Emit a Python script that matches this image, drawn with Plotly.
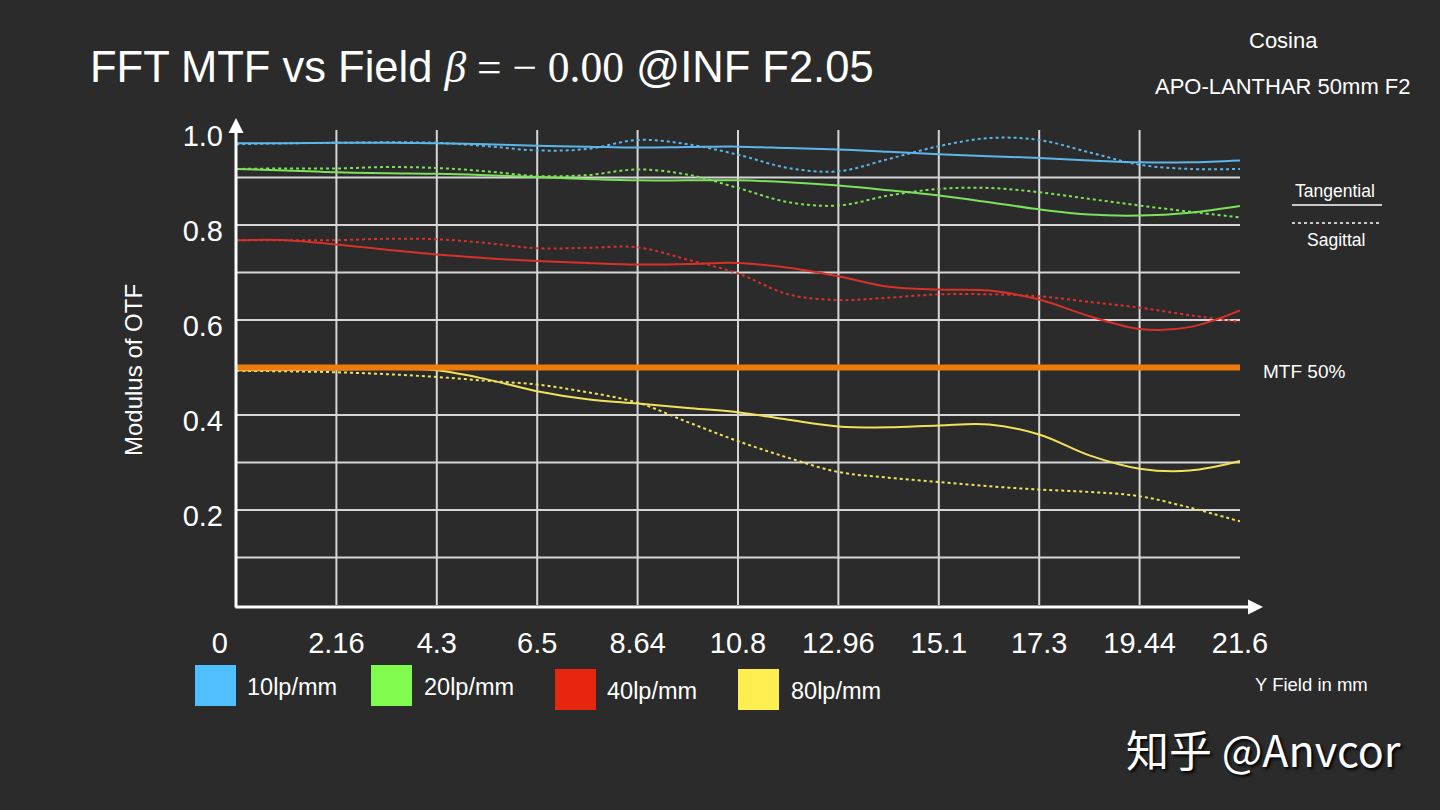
import plotly.graph_objects as go

# Y field positions (mm) where the curves were read
field = [0, 1.08, 2.16, 3.24, 4.32, 5.4, 6.48, 7.56, 8.64, 9.72, 10.8,
         11.88, 12.96, 14.04, 15.12, 16.2, 17.28, 18.36, 19.44, 20.52, 21.6]

# tick marks on the field axis ("0" is padded so it sits left of the axis, as in the original)
field_ticks = [0, 2.16, 4.32, 6.48, 8.64, 10.8, 12.96, 15.12, 17.28, 19.44, 21.6]
field_labels = ['0\u00a0\u00a0\u00a0\u00a0', '2.16', '4.3', '6.5', '8.64', '10.8', '12.96',
                '15.1', '17.3', '19.44', '21.6']

mtf_ticks = [0.2, 0.4, 0.6, 0.8, 1.0]
mtf_labels = ['0.2', '0.4', '0.6', '0.8', '1.0']
mtf_grid = [0.1, 0.2, 0.3, 0.4, 0.5, 0.6, 0.7, 0.8, 0.9]

# MTF values, tangential (T) and sagittal (S)
t10 = [0.972, 0.972, 0.973, 0.973, 0.972, 0.970, 0.967, 0.965, 0.963, 0.964, 0.965,
       0.962, 0.959, 0.954, 0.949, 0.945, 0.941, 0.936, 0.932, 0.932, 0.936]
s10 = [0.970, 0.972, 0.973, 0.974, 0.973, 0.966, 0.957, 0.960, 0.979, 0.970, 0.948,
       0.920, 0.913, 0.939, 0.966, 0.983, 0.979, 0.953, 0.927, 0.918, 0.918]
t20 = [0.918, 0.915, 0.911, 0.909, 0.908, 0.905, 0.901, 0.897, 0.894, 0.894, 0.894,
       0.890, 0.883, 0.873, 0.862, 0.848, 0.833, 0.822, 0.820, 0.826, 0.840]
s20 = [0.918, 0.919, 0.919, 0.922, 0.920, 0.913, 0.903, 0.905, 0.917, 0.906, 0.878,
       0.848, 0.841, 0.862, 0.876, 0.878, 0.869, 0.855, 0.841, 0.828, 0.816]
t40 = [0.768, 0.768, 0.759, 0.748, 0.738, 0.730, 0.724, 0.720, 0.717, 0.718, 0.720,
       0.710, 0.692, 0.670, 0.664, 0.662, 0.643, 0.608, 0.581, 0.585, 0.620]
s40 = [0.768, 0.768, 0.768, 0.771, 0.770, 0.762, 0.751, 0.752, 0.753, 0.727, 0.698,
       0.654, 0.642, 0.647, 0.654, 0.654, 0.650, 0.638, 0.626, 0.610, 0.596]
t80 = [0.494, 0.495, 0.496, 0.497, 0.494, 0.475, 0.450, 0.433, 0.424, 0.415, 0.406,
       0.390, 0.376, 0.374, 0.378, 0.380, 0.359, 0.315, 0.287, 0.283, 0.303]
s80 = [0.493, 0.492, 0.490, 0.486, 0.480, 0.472, 0.464, 0.448, 0.426, 0.385, 0.345,
       0.310, 0.280, 0.268, 0.259, 0.250, 0.243, 0.238, 0.229, 0.205, 0.176]

mtf50 = 0.5

freqs = ['10lp/mm', '20lp/mm', '40lp/mm', '80lp/mm']
tang = [t10, t20, t40, t80]
sag = [s10, s20, s40, s80]
line_colors = ['#5cb6ea', '#7de25a', '#d8302a', '#f1e25c']
swatch_colors = ['#4fbfff', '#80fb4e', '#e8250f', '#ffee50']

BG = '#2b2b2b'
FONT = 'Liberation Sans, Arial, sans-serif'

# plot area in pixels: x 236..1240, y 130..605
L, R, T, B = 236, 1240, 130, 605


def px(x):
    return (x - L) / (R - L)


def py(y):
    return (B - y) / (B - T)


fig = go.Figure()

for name, ts, ss, c in zip(freqs, tang, sag, line_colors):
    fig.add_trace(go.Scatter(x=field, y=ts, mode='lines', name=name + ' T',
                             line=dict(color=c, width=2, shape='spline', smoothing=1)))
    fig.add_trace(go.Scatter(x=field, y=ss, mode='lines', name=name + ' S',
                             line=dict(color=c, width=2, dash='dot', shape='spline', smoothing=1)))

fig.add_trace(go.Scatter(x=[field[0], field[-1]], y=[mtf50, mtf50], mode='lines',
                         name='MTF 50%', line=dict(color='#ef7a0e', width=6)))

shapes = []
# grid
for v in mtf_grid:
    shapes.append(dict(type='line', xref='x', yref='y', x0=0, x1=field[-1] * 1.004, y0=v, y1=v,
                       line=dict(color='#d6d6d6', width=2), layer='below'))
for v in field_ticks[1:-1]:
    shapes.append(dict(type='line', xref='x', yref='y', x0=v, x1=v, y0=0, y1=1.0,
                       line=dict(color='#d6d6d6', width=2), layer='below'))

# colour swatches of the bottom legend
sw_x = [195, 371, 555, 738]
sw_y = [665, 665, 669, 669]
for x0, y0, c in zip(sw_x, sw_y, swatch_colors):
    shapes.append(dict(type='rect', xref='paper', yref='paper',
                       x0=px(x0), x1=px(x0 + 41), y0=py(y0), y1=py(y0 + 41),
                       fillcolor=c, line=dict(width=0)))

# tangential / sagittal key
shapes.append(dict(type='line', xref='paper', yref='paper', x0=px(1292), x1=px(1382),
                   y0=py(205), y1=py(205), line=dict(color='white', width=1.5)))
shapes.append(dict(type='line', xref='paper', yref='paper', x0=px(1292), x1=px(1382),
                   y0=py(223), y1=py(223), line=dict(color='white', width=1.5, dash='dot')))

ann = []


def label(text, x, y, size, anchor='center', **kw):
    ann.append(dict(text=text, x=px(x), y=py(y), xref='paper', yref='paper',
                    xanchor=anchor, yanchor='middle', showarrow=False,
                    font=dict(family=kw.pop('family', FONT), size=size, color='white'), **kw))


label('FFT MTF vs Field <span style="font-family:Liberation Serif"><i>β</i> = − 0.00</span> @INF F2.05',
      88, 67, 43.5, anchor='left')
label('Cosina', 1283, 40, 22)
label('APO-LANTHAR 50mm F2', 1283, 87, 22)
label('Tangential', 1335, 191, 17.5)
label('Sagittal', 1336, 240, 17.5)
label('MTF 50%', 1261, 371, 19, anchor='left')
label('Y Field in mm', 1253, 684, 18.5, anchor='left')
label('Modulus of OTF', 133, 370, 24, textangle=-90)

lx = [245, 422, 605, 789]
ly = [687, 687, 691, 691]
for name, x, y in zip(freqs, lx, ly):
    label(name, x, y, 23.5, anchor='left')

ann.append(dict(text='知乎 @Anvcor', x=px(1124), y=py(748), xref='paper', yref='paper',
                xanchor='left', yanchor='middle', showarrow=False,
                font=dict(family='Noto Sans CJK SC', size=43, color='white',
                          shadow='2px 2px 3px #000000')))

# axis lines with arrow heads
ann.append(dict(text='', x=px(1263), y=py(607), xref='paper', yref='paper',
                ax=-(1263 - 234), ay=0, showarrow=True, arrowhead=2, arrowsize=1,
                arrowwidth=3, arrowcolor='white', standoff=0))
ann.append(dict(text='', x=px(236), y=py(118), xref='paper', yref='paper',
                ax=0, ay=609 - 118, showarrow=True, arrowhead=2, arrowsize=1,
                arrowwidth=3, arrowcolor='white', standoff=0))

fig.update_layout(
    width=1440, height=810,
    margin=dict(l=L, r=1440 - R, t=T, b=810 - B),
    paper_bgcolor=BG, plot_bgcolor=BG,
    showlegend=False,
    shapes=shapes,
    annotations=ann,
    font=dict(family=FONT, color='white'),
    xaxis=dict(range=[0, 21.6], tickvals=field_ticks, ticktext=field_labels,
               showgrid=False, zeroline=False, showline=False, ticks='',
               ticklabelstandoff=18, tickfont=dict(size=29, color='white')),
    yaxis=dict(range=[0, 1.0], tickvals=mtf_ticks, ticktext=mtf_labels,
               showgrid=False, zeroline=False, showline=False, ticks='',
               ticklabelstandoff=12, ticklabelshift=6, tickfont=dict(size=29, color='white')),
)

fig.write_html('out.html', config={'displayModeBar': False},
               post_script="document.body.style.margin='0';")
